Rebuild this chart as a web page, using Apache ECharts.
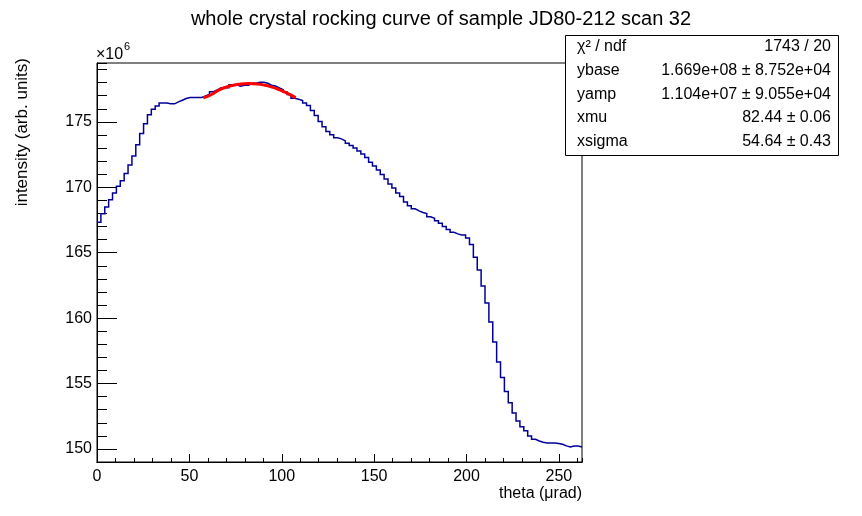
<!DOCTYPE html>
<html>
<head>
<meta charset="utf-8">
<title>whole crystal rocking curve</title>
<script src="https://cdn.jsdelivr.net/npm/echarts@6/dist/echarts.min.js"></script>
<style>
  html, body { margin: 0; padding: 0; background: #fff; }
  #chart { width: 862px; height: 516px; }
</style>
</head>
<body>
<div id="chart"></div>
<script>
// histogram: 125 bins of 2.1 urad starting at 0, contents in units of 1e6
const binWidth = 2.1;
const binCounts = [
  167.32, 167.97, 168.50, 169.04, 169.57, 170.08, 170.49, 171.05, 171.71, 172.40,
  173.26, 174.11, 174.85, 175.54, 175.96, 176.22, 176.45, 176.45, 176.38, 176.38,
  176.53, 176.65, 176.78, 176.86, 176.86, 176.86, 176.86, 176.99, 177.11, 177.30,
  177.45, 177.60, 177.60, 177.60, 177.83, 177.83, 177.72, 177.80, 177.80, 177.95,
  177.95, 178.03, 178.03, 177.95, 177.80, 177.74, 177.60, 177.45, 177.28, 177.09,
  176.80, 176.73, 176.63, 176.45, 176.25, 175.86, 175.48, 175.02, 174.62, 174.26,
  174.01, 173.78, 173.70, 173.55, 173.36, 173.19, 173.01, 172.78, 172.55, 172.27,
  171.91, 171.62, 171.33, 170.97, 170.64, 170.26, 169.95, 169.57, 169.29, 168.88,
  168.58, 168.35, 168.20, 168.07, 167.99, 167.74, 167.63, 167.45, 167.25, 167.00,
  166.77, 166.56, 166.44, 166.36, 166.36, 166.13, 165.62, 164.65, 163.68, 162.46,
  161.16, 159.71, 158.18, 156.65, 155.46, 154.38, 153.52, 152.75, 152.14, 151.70,
  151.38, 150.99, 150.74, 150.61, 150.51, 150.46, 150.46, 150.46, 150.41, 150.35,
  150.23, 150.15, 150.23, 150.23, 150.15
];

// gaussian fit
const fitTheta  = [57.5, 62, 67, 72, 77, 82, 87, 92, 97, 102, 107.5];
const fitCounts = [176.83, 177.09, 177.51, 177.74, 177.88, 177.94, 177.90, 177.77, 177.55, 177.25, 176.85];

// stats box
const statNames  = ['χ² / ndf', 'ybase', 'yamp', 'xmu', 'xsigma'];
const statValues = ['1743 / 20', '1.669e+08 ± 8.752e+04', '1.104e+07 ± 9.055e+04', '82.44 ± 0.06', '54.64 ± 0.43'];

const xMin = 0, xMax = 262.5;
const yMin = 149, yMax = 179.5;

const FONT = 'Liberation Sans, Arial, Helvetica, sans-serif';

// outline of the bins: each bin contributes its low and high edge
const histData = [];
binCounts.forEach((v, i) => {
  histData.push([i * binWidth, v]);
  histData.push([(i + 1) * binWidth, v]);
});

const statGraphics = [
  {
    type: 'rect',
    shape: { x: 565.5, y: 35.5, width: 273, height: 120 },
    style: { fill: '#fff', stroke: '#000', lineWidth: 1 },
    z: 100
  }
];
statNames.forEach((name, i) => {
  const y = 47 + i * 23.6;
  statGraphics.push({
    type: 'text', x: 577, y: y, z: 101,
    style: { text: name, font: '16px ' + FONT, fill: '#000', textAlign: 'left', textVerticalAlign: 'middle' }
  });
  statGraphics.push({
    type: 'text', x: 831, y: y, z: 101,
    style: { text: statValues[i], font: '16px ' + FONT, fill: '#000', textAlign: 'right', textVerticalAlign: 'middle' }
  });
});

const chart = echarts.init(document.getElementById('chart'), null, { renderer: 'canvas' });

const axisCommon = {
  type: 'value',
  splitLine: { show: false },
  axisLine: { show: true, lineStyle: { color: '#000', width: 1 } }
};

chart.setOption({
  animation: false,
  backgroundColor: '#fff',
  textStyle: { fontFamily: FONT },
  grid: {
    left: 97, top: 63, right: 280, bottom: 54,
    show: true, borderColor: '#000', borderWidth: 1, backgroundColor: 'transparent'
  },
  xAxis: [
    {
      // minor ticks every 10
      ...axisCommon, position: 'bottom', min: xMin, max: xMax, interval: 10,
      axisTick: { show: true, inside: true, length: 4, lineStyle: { color: '#000' } },
      axisLabel: { show: false }
    },
    {
      ...axisCommon, position: 'bottom', min: xMin, max: xMax, interval: 50,
      axisTick: { show: true, inside: true, length: 8, lineStyle: { color: '#000' } },
      axisLabel: { show: true, color: '#000', fontSize: 16, fontFamily: FONT, margin: 7, showMaxLabel: false }
    }
  ],
  yAxis: [
    {
      // minor ticks every 1
      ...axisCommon, position: 'left', min: yMin, max: yMax, interval: 1,
      axisTick: { show: true, inside: true, length: 10, lineStyle: { color: '#000' } },
      axisLabel: { show: false }
    },
    {
      ...axisCommon, position: 'left', min: yMin, max: yMax, splitNumber: 6,
      axisTick: { show: true, inside: true, length: 20, lineStyle: { color: '#000' } },
      axisLabel: {
        show: true, color: '#000', fontSize: 16, fontFamily: FONT, margin: 5,
        showMinLabel: false, showMaxLabel: false
      }
    }
  ],
  series: [
    {
      name: 'hist',
      type: 'line',
      xAxisIndex: 0,
      yAxisIndex: 0,
      data: histData,
      symbol: 'none',
      smooth: false,
      lineStyle: { color: '#000099', width: 1.5, join: 'miter' },
      z: 3
    },
    {
      name: 'fit',
      type: 'line',
      smooth: true,
      xAxisIndex: 0,
      yAxisIndex: 0,
      data: fitTheta.map((x, i) => [x, fitCounts[i]]),
      symbol: 'none',
      lineStyle: { color: '#ff0000', width: 3 },
      z: 4
    }
  ],
  graphic: [
    {
      type: 'text', x: 441, y: 19,
      style: { text: 'whole crystal rocking curve of sample JD80-212 scan 32', font: '20px ' + FONT, fill: '#000', textAlign: 'center', textVerticalAlign: 'middle' }
    },
    {
      type: 'text', x: 96, y: 55,
      style: { text: '×10', font: '16px ' + FONT, fill: '#000', textAlign: 'left', textVerticalAlign: 'middle' }
    },
    {
      type: 'text', x: 124, y: 47,
      style: { text: '6', font: '11px ' + FONT, fill: '#000', textAlign: 'left', textVerticalAlign: 'middle' }
    },
    {
      type: 'text', x: 22, y: 58, rotation: Math.PI / 2,
      style: { text: 'intensity (arb. units)', font: '17px ' + FONT, fill: '#000', textAlign: 'right', textVerticalAlign: 'middle' }
    },
    {
      type: 'text', x: 582, y: 494,
      style: { text: 'theta (μrad)', font: '16px ' + FONT, fill: '#000', textAlign: 'right', textVerticalAlign: 'middle' }
    },
    ...statGraphics
  ]
});
</script>
</body>
</html>
